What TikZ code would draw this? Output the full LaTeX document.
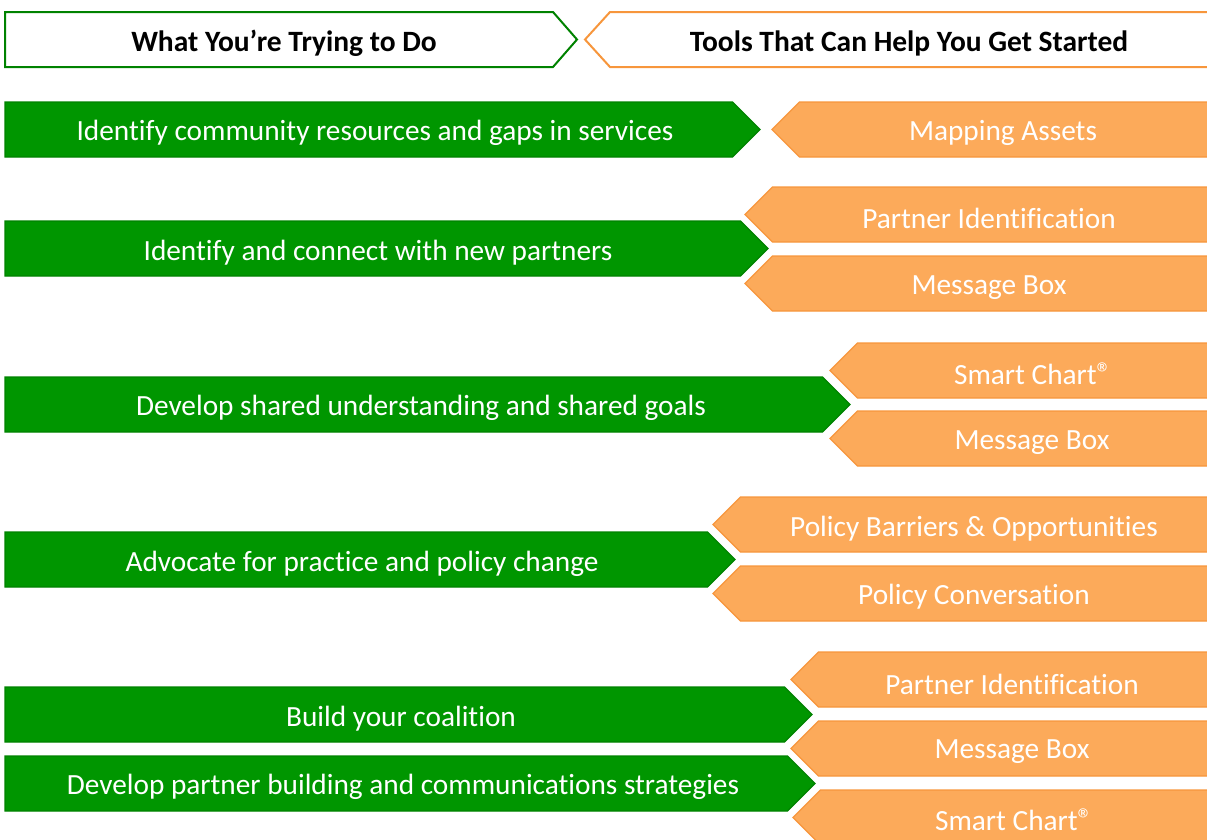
\documentclass[tikz,border=0pt]{standalone}
\usepackage{fontspec}
\setmainfont{Carlito}[Ligatures=NoCommon]
\definecolor{gfill}{RGB}{0,150,0}
\definecolor{gline}{RGB}{0,130,0}
\definecolor{ofill}{RGB}{252,170,90}
\definecolor{oline}{RGB}{247,150,60}
\tikzset{
  gshape/.style={fill=gfill,draw=gline,line width=1.2pt,line join=miter},
  oshape/.style={fill=ofill,draw=oline,line width=1.2pt,line join=miter},
  ghead/.style={fill=white,draw=gline,line width=2pt},
  ohead/.style={fill=white,draw=oline,line width=2pt},
  wlabel/.style={text=white,font=\fontsize{29.3}{33}\selectfont,inner sep=0pt,anchor=center},
  hlabel/.style={text=black,font=\bfseries\fontsize{29.5}{33}\selectfont,inner sep=0pt,anchor=center}
}
% right pointing: y1 y2 tipx
\newcommand\rchev[3]{\path[gshape] (5,#1) -- ({#3-27.5},#1) -- (#3,{(#1+#2)/2}) -- ({#3-27.5},#2) -- (5,#2) -- cycle;}
% left pointing: y1 y2 tipx
\newcommand\lchev[3]{\path[oshape] (1240,#1) -- ({#3+27.5},#1) -- (#3,{(#1+#2)/2}) -- ({#3+27.5},#2) -- (1240,#2) -- cycle;}
\newcommand\regmark{\smash{\raisebox{0.05ex}{\fontsize{30}{30}\selectfont ®}}}
\begin{document}
\begin{tikzpicture}[x=1pt,y=-1pt]
\useasboundingbox (0,0) rectangle (1207,839);
\clip (0,0) rectangle (1207,839);
% headers
\path[ghead] (5,12) -- (553,12) -- (577,39.5) -- (553,67) -- (5,67) -- cycle;
\path[ohead] (1240,12) -- (610,12) -- (585,39.5) -- (610,67) -- (1240,67) -- cycle;
\node[hlabel] (h1) at (284,43) {What You’re Trying to Do};
\node[hlabel] (h2) at (909,43) {Tools That Can Help You Get Started};
% row 1
\rchev{102}{157}{760}
\lchev{102}{157}{772}
\node[wlabel] (g1) at (375,133) {Identify community resources and gaps in services};
\node[wlabel] (o1) at (1003,133) {Mapping Assets};
% row 2
\rchev{221}{276}{768}
\lchev{187}{242}{745}
\lchev{256}{311}{745}
\node[wlabel] (g2) at (378,253) {Identify and connect with new partners};
\node[wlabel] (o2a) at (989,218) {Partner Identification};
\node[wlabel] (o2b) at (989,288) {Message Box};
% row 3
\rchev{377}{432}{850}
\lchev{343}{398}{830}
\lchev{411}{466}{830}
\node[wlabel] (g3) at (421,408) {Develop shared understanding and shared goals};
\node[wlabel,anchor=base] (o3a) at (1033,384) {Smart Chart\regmark};
\node[wlabel] (o3b) at (1032,443) {Message Box};
% row 4
\rchev{532}{587}{735}
\lchev{497}{552}{713}
\lchev{566}{621}{713}
\node[wlabel] (g4) at (362,564) {Advocate for practice and policy change};
\node[wlabel] (o4a) at (974,529) {Policy Barriers \& Opportunities};
\node[wlabel] (o4b) at (974,597) {Policy Conversation};
% row 5
\rchev{687}{742}{812}
\rchev{756}{811}{815}
\lchev{652}{707}{791}
\lchev{721}{776}{791}
\lchev{790}{845}{793}
\node[wlabel] (g5a) at (401,719) {Build your coalition};
\node[wlabel] (g5b) at (403,787) {Develop partner building and communications strategies};
\node[wlabel] (o5a) at (1012,684) {Partner Identification};
\node[wlabel] (o5b) at (1012,752) {Message Box};
\node[wlabel,anchor=base] (o5c) at (1014,830) {Smart Chart\regmark};
\end{tikzpicture}
\end{document}
